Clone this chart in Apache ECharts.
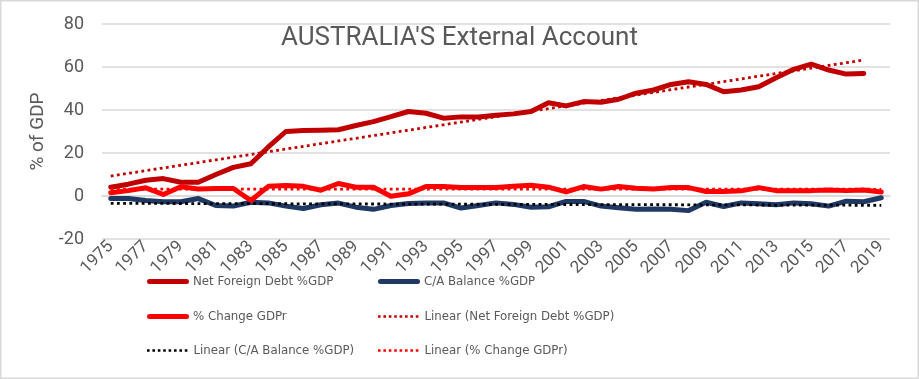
<!DOCTYPE html>
<html>
<head>
<meta charset="utf-8">
<script src="https://cdn.jsdelivr.net/npm/echarts@6/dist/echarts.min.js"></script>
<style>
html,body{margin:0;padding:0;background:#fff;}
#c{width:919px;height:379px;}
</style>
</head>
<body>
<div id="c"></div>
<script>
const years = [];
for (let y = 1975; y <= 2019; y++) years.push(String(y));

const netForeignDebt = [4.1, 5.5, 7.3, 8.1, 6.4, 6.4, 10.0, 13.3, 15.0, 22.8, 30.0, 30.5, 30.6, 30.8, 32.8, 34.6, 36.9, 39.3, 38.5, 36.2, 36.8, 36.7, 37.6, 38.2, 39.3, 43.4, 41.9, 43.9, 43.6, 45.0, 47.8, 49.3, 51.9, 53.1, 51.9, 48.5, 49.3, 50.8, 55.0, 58.9, 61.3, 58.6, 56.7, 57.0, null];
const caBalance = [-1.2, -1.2, -2.1, -2.7, -2.7, -1.2, -4.4, -4.7, -2.9, -3.2, -4.7, -5.8, -4.1, -3.3, -5.2, -6.2, -4.4, -3.5, -3.3, -3.2, -5.6, -4.4, -3.2, -3.9, -5.2, -5.0, -2.5, -2.5, -4.7, -5.5, -6.2, -6.1, -6.2, -6.8, -2.9, -4.9, -3.2, -3.6, -4.1, -3.2, -3.6, -4.7, -2.4, -2.7, -0.8];
const gdpChange = [1.5, 2.5, 3.8, 0.7, 4.3, 3.3, 3.5, 3.5, -2.1, 4.5, 4.9, 4.5, 2.7, 5.8, 4.1, 4.1, -0.1, 1.0, 4.4, 4.4, 3.9, 3.9, 3.9, 4.5, 5.0, 4.1, 1.9, 4.4, 3.2, 4.4, 3.6, 3.3, 3.9, 3.9, 2.1, 2.1, 2.4, 3.9, 2.5, 2.5, 2.5, 2.8, 2.5, 2.8, 1.9];

const yTicks = [-20, 0, 20, 40, 60, 80];
const names = ['Net Foreign Debt %GDP', 'C/A Balance %GDP', '% Change GDPr', 'Linear (Net Foreign Debt %GDP)', 'Linear (C/A Balance %GDP)', 'Linear (% Change GDPr)'];

// Least-squares linear trendline (as in the spreadsheet's "Linear" trendline)
function trend(vals) {
  let n = 0, sx = 0, sy = 0, sxx = 0, sxy = 0;
  vals.forEach((v, i) => { if (v != null) { n++; sx += i; sy += v; sxx += i * i; sxy += i * v; } });
  const b = (n * sxy - sx * sy) / (n * sxx - sx * sx);
  const a = (sy - b * sx) / n;
  return vals.map((v, i) => v == null ? null : +(a + b * i).toFixed(3));
}

// pick a narrow font for the legend if one is installed
const ctx = document.createElement('canvas').getContext('2d');
function hasFont(f) {
  const t = 'mmmmmmmmmmlli1WQ%/()abcxyz';
  let diff = false;
  ['monospace', 'serif'].forEach(g => {
    ctx.font = '40px ' + g; const a = ctx.measureText(t).width;
    ctx.font = '40px "' + f + '", ' + g; const b = ctx.measureText(t).width;
    if (a !== b) diff = true;
  });
  return diff;
}
const narrowCandidates = ['Liberation Sans Narrow', 'DejaVu Sans Condensed', 'Roboto'];
const LEG_FAMILY = narrowCandidates.find(hasFont) || 'Roboto';
ctx.font = '16px "' + LEG_FAMILY + '"';
const w16 = ctx.measureText(names[0]).width;
const LEG_SIZE = Math.min(16, Math.round(16 * 140 / w16 * 10) / 10);

const FONT = '"Roboto", "Liberation Sans", sans-serif';
const LEG_FONT = '"' + LEG_FAMILY + '", "Roboto", sans-serif';
const GREY = '#595959';
const cDebt = '#C00000', cCA = '#1F3864', cGDP = '#FF0000';

// legend glyphs: a thick solid bar and a row of dots
const SOLID_ICON = 'path://M2.5,0 L39.5,0 A2.5,2.5 0 0 1 39.5,5 L2.5,5 A2.5,2.5 0 0 1 2.5,0 Z';
let dotPath = 'path://';
for (let k = 0; k < 8; k++) { const x0 = k * 5.4; dotPath += 'M' + x0 + ',0 h2.6 v2.6 h-2.6 Z '; }
const DOT_ICON = dotPath + 'M40.4,0 h0.01 v2.6 h-0.01 Z';

function legendAt(name, left, top, dotted) {
  return {
    data: [{ name: name, icon: dotted ? DOT_ICON : SOLID_ICON }],
    left: left, top: top, orient: 'horizontal', selectedMode: false,
    itemWidth: dotted ? 40.41 : 42, itemHeight: dotted ? 2.6 : 5, itemGap: 0,
    symbolKeepAspect: false,
    textStyle: { color: GREY, fontSize: LEG_SIZE, fontFamily: LEG_FONT, padding: [0, 0, 0, dotted ? 1 : -1] }
  };
}

const chart = echarts.init(document.getElementById('c'), null, { renderer: 'canvas' });
chart.setOption({
  animation: false,
  backgroundColor: '#fff',
  textStyle: { fontFamily: FONT },
  title: {
    text: "AUSTRALIA'S External Account",
    left: 'center', top: 20,
    textStyle: { color: GREY, fontSize: 26, fontWeight: 'normal', fontFamily: FONT }
  },
  graphic: [{
    type: 'rect', silent: true, z: -10,
    shape: { x: 0.75, y: 0.75, width: 917.5, height: 377.5 },
    style: { fill: 'none', stroke: '#d9d9d9', lineWidth: 1.5 }
  }],
  legend: [
    legendAt(names[0], 142, 270, false),
    legendAt(names[2], 142, 305, false),
    legendAt(names[4], 142, 339, true),
    legendAt(names[1], 373, 270, false),
    legendAt(names[3], 373, 305, true),
    legendAt(names[5], 373, 339, true)
  ],
  grid: { left: 102, right: 29, top: 24, bottom: 140 },
  xAxis: {
    type: 'category', data: years, boundaryGap: true,
    axisLine: { show: true, onZero: true, lineStyle: { color: '#d9d9d9', width: 1.5 } },
    axisTick: { show: false },
    axisLabel: { interval: 1, rotate: 45, color: GREY, fontSize: 17, fontFamily: FONT, margin: 5 }
  },
  yAxis: {
    type: 'value', min: yTicks[0], max: yTicks[yTicks.length - 1], interval: 20,
    name: '% of GDP', nameLocation: 'middle', nameGap: 45, nameRotate: 90,
    nameTextStyle: { color: GREY, fontSize: 19, fontFamily: FONT },
    axisLine: { show: false }, axisTick: { show: false },
    axisLabel: { color: GREY, fontSize: 18, fontFamily: FONT, margin: 18 },
    splitLine: { lineStyle: { color: '#d9d9d9', width: 1.5 } }
  },
  series: [
    { name: names[0], type: 'line', data: netForeignDebt, symbol: 'none', lineStyle: { color: cDebt, width: 5, cap: 'round', join: 'round' }, itemStyle: { color: cDebt }, z: 3 },
    { name: names[1], type: 'line', data: caBalance, symbol: 'none', lineStyle: { color: cCA, width: 5, cap: 'round', join: 'round' }, itemStyle: { color: cCA }, z: 3 },
    { name: names[2], type: 'line', data: gdpChange, symbol: 'none', lineStyle: { color: cGDP, width: 5, cap: 'round', join: 'round' }, itemStyle: { color: cGDP }, z: 3 },
    { name: names[3], type: 'line', data: trend(netForeignDebt), symbol: 'none', lineStyle: { color: cDebt, width: 2.8, type: [2.8, 3.4] }, itemStyle: { color: cDebt }, z: 4 },
    { name: names[4], type: 'line', data: trend(caBalance), symbol: 'none', lineStyle: { color: '#000', width: 2.8, type: [2.8, 3.4] }, itemStyle: { color: '#000' }, z: 4 },
    { name: names[5], type: 'line', data: trend(gdpChange), symbol: 'none', lineStyle: { color: cGDP, width: 2.8, type: [2.8, 3.4] }, itemStyle: { color: cGDP }, z: 4 }
  ]
});
</script>
</body>
</html>
